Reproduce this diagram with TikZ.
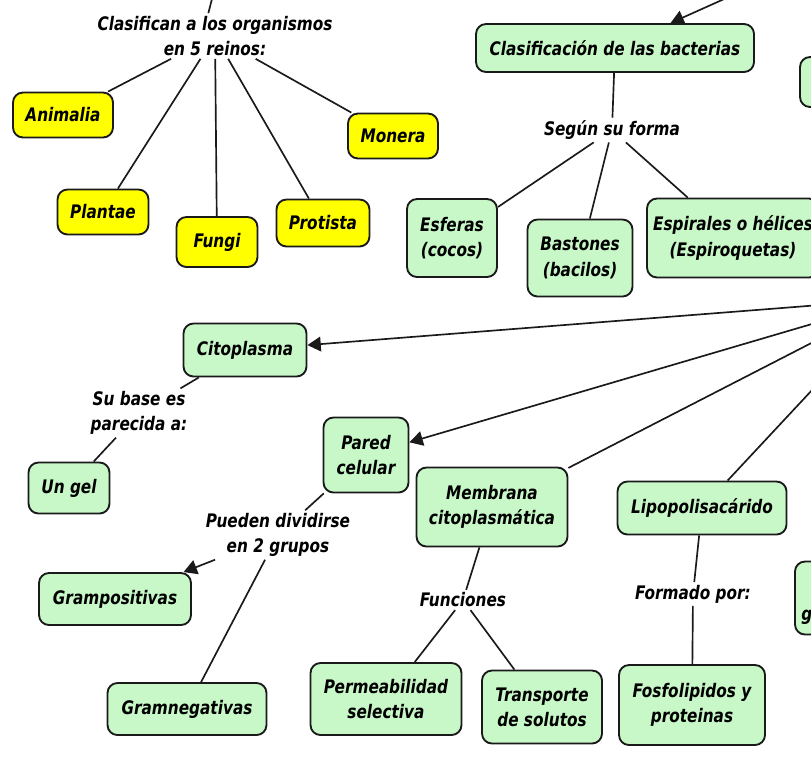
\documentclass[tikz,border=0pt]{standalone}
\usepackage{fontspec}
\setmainfont{DejaVu Sans}[FakeStretch=0.82]
\usetikzlibrary{arrows.meta}
\definecolor{ylw}{HTML}{FFFF00}
\definecolor{grn}{HTML}{C8F8C8}
\definecolor{edgec}{HTML}{1A1A1A}
\begin{document}
\begin{tikzpicture}[x=0.75pt,y=-0.75pt,
  every node/.style={font=\bfseries\itshape\fontsize{14}{19}\selectfont, align=center, text=black},
  concept/.style={draw=edgec, line width=1.4pt, rounded corners=7.5pt, inner sep=2pt},
  yel/.style={concept, fill=ylw},
  gre/.style={concept, fill=grn},
  link/.style={inner sep=2pt},
  conn/.style={draw=edgec, line width=1.25pt},
  arr/.style={conn, -{Triangle[length=10pt,width=11pt]}},
]
\useasboundingbox (0,0) rectangle (811,764);
\fill[white] (0,0) rectangle (811,764);
\clip (0,0) rectangle (811,764);

% off-screen sources
\coordinate (top1) at (213,-5);
\coordinate (top2) at (800,-35);
\coordinate (hub) at (897,299);

% linking phrases
\node[link] (lab1) at (215,36) {Clasifican a los organismos\\en 5 reinos:};
\node[link] (lab2) at (612,130) {Según su forma};
\node[link] (lab3) at (139,413) {Su base es\\parecida a:};
\node[link] (lab4) at (278,535) {Pueden dividirse\\en 2 grupos};
\node[link] (lab5) at (463,600) {Funciones};
\node[link] (lab6) at (693,594) {Formado por:};

% yellow concepts
\node[yel, minimum width=75pt, minimum height=33.75pt] (anim) at (63,115) {Animalia};
\node[yel, minimum width=67.5pt, minimum height=33.75pt] (mone) at (393,136) {Monera};
\node[yel, minimum width=68.25pt, minimum height=33.75pt] (plan) at (103,212) {Plantae};
\node[yel, minimum width=60.75pt, minimum height=37.5pt] (fung) at (217,242) {Fungi};
\node[yel, minimum width=69.75pt, minimum height=35.25pt] (prot) at (323,223) {Protista};

% green concepts
\node[gre, minimum width=208.5pt, minimum height=36pt] (clas) at (615,48) {Clasificación de las bacterias};
\node[gre, minimum width=67.5pt, minimum height=58.5pt] (esf) at (452,238) {Esferas\\(cocos)};
\node[gre, minimum width=78.75pt, minimum height=57.75pt] (bast) at (580,258) {Bastones\\(bacilos)};
\node[gre, minimum width=129pt, minimum height=59.25pt] (espi) at (733,238) {Espirales o hélices\\(Espiroquetas)};
\node[gre, minimum width=92.25pt, minimum height=39.75pt] (cito) at (245,350) {Citoplasma};
\node[gre, minimum width=60.75pt, minimum height=38.25pt] (ungel) at (69,488) {Un gel};
\node[gre, minimum width=63.75pt, minimum height=56.25pt] (pared) at (366,455) {Pared\\celular};
\node[gre, minimum width=113.25pt, minimum height=59.25pt] (memb) at (492,507) {Membrana\\citoplasmática};
\node[gre, minimum width=126.75pt, minimum height=39.75pt] (lipo) at (702,508) {Lipopolisacárido};
\node[gre, minimum width=114pt, minimum height=39pt] (gpos) at (115,599) {Grampositivas};
\node[gre, minimum width=119.25pt, minimum height=39pt] (gneg) at (187,709) {Gramnegativas};
\node[gre, minimum width=113.25pt, minimum height=54pt] (perm) at (386,699) {Permeabilidad\\selectiva};
\node[gre, minimum width=90pt, minimum height=54.75pt] (trans) at (542,707) {Transporte\\de solutos};
\node[gre, minimum width=109.5pt, minimum height=60pt] (fosf) at (692,705) {Fosfolipidos y\\proteinas};

% partially visible concepts at the right edge
\node[gre, minimum width=75pt, minimum height=37.5pt] (pr1) at (850,82) {};
\node[gre, minimum width=82.5pt, minimum height=54.75pt] (pr2) at (850,598) {};
\node[link, anchor=base west, inner sep=0pt] (pr2g) at (801,620) {g};

% connectors
\draw[conn] (top1) -- ([xshift=-5pt]lab1.north);
\draw[conn] (lab1) -- (anim);
\draw[conn] (lab1) -- (plan);
\draw[conn] (lab1) -- (fung);
\draw[conn] (lab1) -- (prot);
\draw[conn] (lab1) -- (mone);

\draw[arr] (top2) -- (clas);
\draw[conn] (clas) -- (lab2);
\draw[conn] (lab2) -- (esf);
\draw[conn] (lab2) -- (bast);
\draw[conn] (lab2) -- (espi);

\draw[arr] (hub) -- (cito);
\draw[arr] (hub) -- (pared);
\draw[conn] (hub) -- (memb);
\draw[conn] (hub) -- (lipo);

\draw[conn] (cito) -- (lab3);
\draw[conn] (lab3) -- (ungel);

\draw[conn] (pared) -- (lab4);
\draw[arr] (lab4) -- (gpos);
\draw[conn] (lab4) -- (gneg);

\draw[conn] (memb) -- (lab5);
\draw[conn] (lab5) -- (perm);
\draw[conn] (lab5) -- (trans);

\draw[conn] (lipo) -- (lab6);
\draw[conn] (lab6) -- (fosf);
\end{tikzpicture}
\end{document}
